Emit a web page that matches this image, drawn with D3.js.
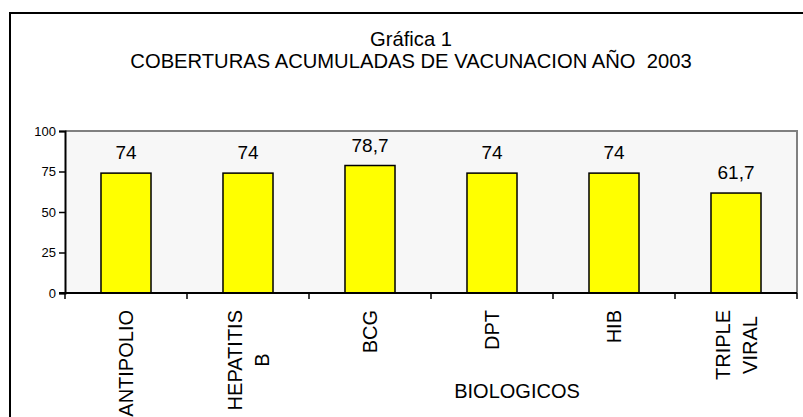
<!DOCTYPE html>
<html>
<head>
<meta charset="utf-8">
<script src="https://cdn.jsdelivr.net/npm/d3@7"></script>
<style>
  body { margin: 0; background: #fff; overflow: hidden; }
  text { font-family: "Liberation Sans", Arial, sans-serif; fill: #000; white-space: pre; }
</style>
</head>
<body>
<div id="chart"></div>
<script>
// data
const categories = ["ANTIPOLIO", "HEPATITIS B", "BCG", "DPT", "HIB", "TRIPLE VIRAL"];
const labelLines = [["ANTIPOLIO"], ["HEPATITIS", "B"], ["BCG"], ["DPT"], ["HIB"], ["TRIPLE", "VIRAL"]];
const values = [74, 74, 78.7, 74, 74, 61.7];
const yTicks = [0, 25, 50, 75, 100];
const titleLines = ["Gráfica 1", "COBERTURAS ACUMULADAS DE VACUNACION AÑO  2003"];
const xTitle = "BIOLOGICOS";

const width = 803, height = 417;
const plot = {left: 65, right: 797, top: 131, bottom: 293};

const svg = d3.select("#chart").append("svg")
    .attr("width", width)
    .attr("height", height);

// outer chart frame (runs off the right and bottom edges)
svg.append("rect")
    .attr("x", 10).attr("y", 13)
    .attr("width", 820).attr("height", 440)
    .attr("fill", "#fff")
    .attr("stroke", "#000")
    .attr("stroke-width", 2);

// titles
svg.selectAll(".title")
    .data(titleLines)
    .join("text")
    .attr("class", "title")
    .attr("x", 411)
    .attr("y", (d, i) => 46 + i * 22)
    .attr("text-anchor", "middle")
    .attr("font-size", "20.2px")
    .attr("xml:space", "preserve")
    .text(d => d);

const x = d3.scaleBand()
    .domain(categories)
    .range([plot.left, plot.right]);
const y = d3.scaleLinear()
    .domain([0, 100])
    .range([plot.bottom, plot.top]);

// plot area
svg.append("rect")
    .attr("x", plot.left).attr("y", plot.top)
    .attr("width", plot.right - plot.left)
    .attr("height", plot.bottom - plot.top)
    .attr("fill", "#f7f7f7");
svg.append("path")
    .attr("d", `M${plot.left},${plot.top}H${plot.right}V${plot.bottom}`)
    .attr("fill", "none")
    .attr("stroke", "#808080")
    .attr("stroke-width", 2);

// bars
const barW = x.bandwidth() * 0.41;
svg.selectAll(".bar")
    .data(values)
    .join("rect")
    .attr("class", "bar")
    .attr("x", (d, i) => x(categories[i]) + (x.bandwidth() - barW) / 2)
    .attr("y", d => y(d))
    .attr("width", barW)
    .attr("height", d => y(0) - y(d))
    .attr("fill", "#ffff00")
    .attr("stroke", "#000")
    .attr("stroke-width", 1.5);

// value labels with decimal comma
const fmt = d3.formatLocale({decimal: ",", thousands: ".", grouping: [3], currency: ["", ""]}).format("~g");
svg.selectAll(".val")
    .data(values)
    .join("text")
    .attr("class", "val")
    .attr("x", (d, i) => x(categories[i]) + x.bandwidth() / 2)
    .attr("y", d => y(d) - 14)
    .attr("text-anchor", "middle")
    .attr("font-size", "19px")
    .text(d => fmt(d));

// y axis
const yAxis = svg.append("g")
    .attr("transform", `translate(${plot.left},0)`)
    .call(d3.axisLeft(y).tickValues(yTicks).tickSize(6).tickPadding(3));
yAxis.select(".domain").attr("stroke", "#000").attr("stroke-width", 2);
yAxis.selectAll(".tick line").attr("stroke", "#000").attr("stroke-width", 1.5);
yAxis.selectAll(".tick text")
    .attr("font-size", "13px")
    .attr("font-family", '"Liberation Sans", Arial, sans-serif');

// x axis line and ticks at band edges
svg.append("line")
    .attr("x1", plot.left - 6).attr("x2", plot.right)
    .attr("y1", y(0)).attr("y2", y(0))
    .attr("stroke", "#000").attr("stroke-width", 2);
const edges = categories.map(c => x(c)).concat([x.range()[1]]);
svg.selectAll(".xtick")
    .data(edges)
    .join("line")
    .attr("class", "xtick")
    .attr("x1", d => d).attr("x2", d => d)
    .attr("y1", y(0)).attr("y2", y(0) + 6)
    .attr("stroke", "#000").attr("stroke-width", 1.5);

// rotated category labels, lines centred on each other, top at y=310
const labelTop = 310, lineGap = 27;
labelLines.forEach((lines, i) => {
    const cx = x(categories[i]) + x.bandwidth() / 2;
    const g = svg.append("g");
    const texts = g.selectAll("text")
        .data(lines)
        .join("text")
        .attr("font-size", "20px")
        .attr("text-anchor", "middle")
        .attr("dy", "0.35em")
        .text(d => d);
    const maxLen = d3.max(texts.nodes(), n => n.getComputedTextLength());
    const cy = labelTop + maxLen / 2;
    texts.attr("transform", (d, j) => {
        const lx = cx + (j - (lines.length - 1) / 2) * lineGap;
        return `translate(${lx},${cy}) rotate(-90)`;
    });
});

// axis title
svg.append("text")
    .attr("x", 517)
    .attr("y", 398)
    .attr("text-anchor", "middle")
    .attr("font-size", "20px")
    .text(xTitle);
</script>
</body>
</html>
